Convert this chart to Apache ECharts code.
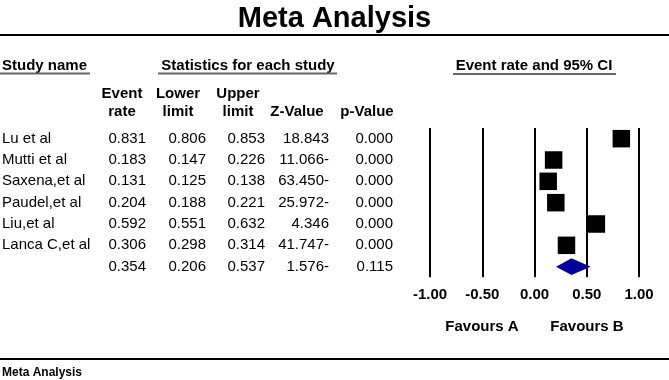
<!doctype html>
<html lang="en">
<head>
    <meta charset="UTF-8">
    <script src="https://cdn.jsdelivr.net/npm/echarts@6/dist/echarts.min.js"></script>
    <title>Meta Analysis</title>
    <style>
        html, body { margin: 0; padding: 0; background: #fff; }
    </style>
</head>
<body>
<div id="main" style="width: 669px;height:380px;"></div>
<script>
    // 数据
    var studies = ['Lu et al', 'Mutti et al', 'Saxena,et al', 'Paudel,et al', 'Liu,et al', 'Lanca C,et al', ''];
    var eventRate = [0.831, 0.183, 0.131, 0.204, 0.592, 0.306, 0.354];
    var lowerLimit = [0.806, 0.147, 0.125, 0.188, 0.551, 0.298, 0.206];
    var upperLimit = [0.853, 0.226, 0.138, 0.221, 0.632, 0.314, 0.537];
    var zValue = [18.843, -11.066, -63.450, -25.972, 4.346, -41.747, -1.576];
    var pValue = [0.000, 0.000, 0.000, 0.000, 0.000, 0.000, 0.115];
    var headTop = ['Event', 'Lower', 'Upper', '', ''];
    var headBottom = ['rate', 'limit', 'limit', 'Z-Value', 'p-Value'];
    var favours = ['Favours A', 'Favours B'];

    var F = '"Liberation Sans", Arial, sans-serif';
    var summaryRow = studies.length - 1;

    // 表格列的位置 (右对齐)
    var colRight = [146, 206, 265, 329, 393];
    var colHead = [122, 178, 238, 297, 367];

    function fmtZ(v) {
        return Math.abs(v).toFixed(3) + (v < 0 ? '-' : '');
    }

    var myChart = echarts.init(document.getElementById('main'));

    var graphics = [
        {type: 'line', shape: {x1: 0, y1: 35, x2: 669, y2: 35}, style: {stroke: '#000', lineWidth: 2}},
        {type: 'line', shape: {x1: 0, y1: 359, x2: 669, y2: 359}, style: {stroke: '#000', lineWidth: 2}},
        {type: 'text', x: 2, y: 66, style: {text: 'Study name', font: 'bold 15px ' + F, fill: '#000', verticalAlign: 'middle'}},
        {type: 'line', shape: {x1: 0, y1: 73.5, x2: 90, y2: 73.5}, style: {stroke: '#666', lineWidth: 2}},
        {type: 'text', x: 248, y: 66, style: {text: 'Statistics for each study', font: 'bold 15px ' + F, fill: '#000', align: 'center', verticalAlign: 'middle'}},
        {type: 'line', shape: {x1: 158, y1: 73.5, x2: 337, y2: 73.5}, style: {stroke: '#666', lineWidth: 2}},
        {type: 'text', x: 534, y: 66, style: {text: 'Event rate and 95% CI', font: 'bold 15px ' + F, fill: '#000', align: 'center', verticalAlign: 'middle'}},
        {type: 'line', shape: {x1: 453, y1: 74, x2: 616, y2: 74}, style: {stroke: '#666', lineWidth: 2}},
        {type: 'text', x: 2, y: 373, style: {text: 'Meta Analysis', font: 'bold 12px ' + F, fill: '#000', verticalAlign: 'middle'}}
    ];
    for (var c = 0; c < colHead.length; c++) {
        graphics.push({type: 'text', x: colHead[c], y: 94, style: {text: headTop[c], font: 'bold 15px ' + F, fill: '#000', align: 'center', verticalAlign: 'middle'}});
        graphics.push({type: 'text', x: colHead[c], y: 112, style: {text: headBottom[c], font: 'bold 15px ' + F, fill: '#000', align: 'center', verticalAlign: 'middle'}});
    }
    graphics.push({type: 'text', x: 482, y: 327, style: {text: favours[0], font: 'bold 15px ' + F, fill: '#000', align: 'center', verticalAlign: 'middle'}});
    graphics.push({type: 'text', x: 587, y: 327, style: {text: favours[1], font: 'bold 15px ' + F, fill: '#000', align: 'center', verticalAlign: 'middle'}});

    var tableData = [];
    var ciData = [];
    var squareData = [];
    for (var i = 0; i < studies.length; i++) {
        tableData.push([0, i]);
        if (i < summaryRow) {
            ciData.push([lowerLimit[i], i, upperLimit[i]]);
            squareData.push([eventRate[i], i]);
        }
    }

    var option = {
        animation: false,
        title: {
            text: 'Meta Analysis',
            left: 'center',
            top: -1,
            textStyle: {fontSize: 29, fontWeight: 'bold', fontFamily: F, color: '#000'}
        },
        grid: [
            {left: 430, width: 209, top: 128, height: 149.33},
            {left: 0, width: 669, top: 128, height: 149.33}
        ],
        xAxis: [{
            gridIndex: 0,
            type: 'value',
            min: -1,
            max: 1,
            interval: 0.5,
            axisLine: {show: false},
            axisTick: {show: false},
            splitLine: {show: true, lineStyle: {color: '#000', width: 2}},
            axisLabel: {
                formatter: function (v) { return v.toFixed(2); },
                fontWeight: 'bold', fontSize: 15, fontFamily: F, color: '#000', margin: 10
            }
        }, {
            gridIndex: 1, type: 'value', min: 0, max: 669, show: false
        }],
        yAxis: [
            {gridIndex: 0, type: 'value', min: -0.5, max: 6.5, inverse: true, show: false},
            {gridIndex: 1, type: 'value', min: -0.5, max: 6.5, inverse: true, show: false}
        ],
        graphic: graphics,
        series: [
            {
                // 表格文字
                type: 'custom',
                xAxisIndex: 1,
                yAxisIndex: 1,
                data: tableData,
                renderItem: function (params, api) {
                    var r = api.value(1);
                    var y = api.coord([0, r])[1];
                    var vals = [eventRate[r].toFixed(3), lowerLimit[r].toFixed(3), upperLimit[r].toFixed(3), fmtZ(zValue[r]), pValue[r].toFixed(3)];
                    var kids = [{type: 'text', x: 2, y: y, style: {text: studies[r], font: '15px ' + F, fill: '#000', verticalAlign: 'middle'}}];
                    for (var k = 0; k < vals.length; k++) {
                        kids.push({type: 'text', x: colRight[k], y: y, style: {text: vals[k], font: '15px ' + F, fill: '#000', align: 'right', verticalAlign: 'middle'}});
                    }
                    return {type: 'group', children: kids};
                }
            },
            {
                // 置信区间
                type: 'custom',
                data: ciData,
                renderItem: function (params, api) {
                    var a = api.coord([api.value(0), api.value(1)]);
                    var b = api.coord([api.value(2), api.value(1)]);
                    return {type: 'line', shape: {x1: a[0], y1: a[1], x2: b[0], y2: b[1]}, style: {stroke: '#000', lineWidth: 1.5}};
                }
            },
            {
                type: 'scatter',
                data: squareData,
                symbol: 'rect',
                symbolSize: 17.5,
                itemStyle: {color: '#000', opacity: 1},
                z: 5
            },
            {
                // 合并效应
                type: 'custom',
                data: [[eventRate[summaryRow], summaryRow, lowerLimit[summaryRow], upperLimit[summaryRow]]],
                renderItem: function (params, api) {
                    var c = api.coord([api.value(0), api.value(1)]);
                    var lo = api.coord([api.value(2), api.value(1)]);
                    var hi = api.coord([api.value(3), api.value(1)]);
                    return {
                        type: 'polygon',
                        shape: {points: [[lo[0], c[1]], [c[0], c[1] - 8.3], [hi[0], c[1]], [c[0], c[1] + 8.3]]},
                        style: {fill: '#00009c'}
                    };
                },
                z: 5
            }
        ]
    };
    myChart.setOption(option);
</script>
</body>
</html>
